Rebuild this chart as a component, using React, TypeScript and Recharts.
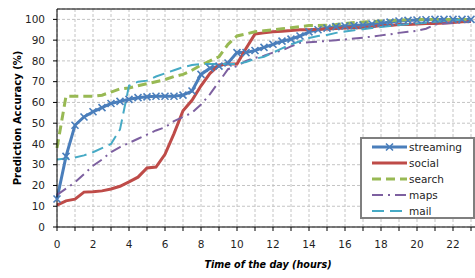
import { LineChart, Line, XAxis, YAxis, CartesianGrid, Legend, ReferenceLine } from 'recharts';

// hour of day, sampled every half hour
const hours = [0, 0.5, 1, 1.5, 2, 2.5, 3, 3.5, 4, 4.5, 5, 5.5, 6, 6.5, 7, 7.5, 8, 8.5, 9, 9.5, 10, 10.5, 11, 11.5, 12, 12.5, 13, 13.5, 14, 14.5, 15, 15.5, 16, 16.5, 17, 17.5, 18, 18.5, 19, 19.5, 20, 20.5, 21, 21.5, 22, 22.5, 23];

const streaming = [13.5, 34, 49, 53, 55.5, 57.5, 59.5, 60.5, 61.5, 62.3, 62.7, 63, 63, 63, 63.5, 65.5, 73.5, 76.5, 77.5, 79, 84, 84, 85, 86.5, 88, 89.5, 90.5, 92, 94, 95, 95.8, 96.5, 96.8, 97, 97.3, 97.8, 98.2, 98.7, 99.2, 99.5, 99.7, 99.8, 100, 100, 100, 100, 100];
const social = [10.5, 12.6, 13.4, 16.8, 17, 17.4, 18.3, 19.6, 21.7, 24, 28.4, 28.9, 35, 45, 56, 61, 68, 74, 78, 78.5, 78.5, 86, 93, 93.5, 94, 94.3, 94.6, 95, 95, 95.2, 95.4, 95.6, 95.8, 96, 96, 96.5, 97, 97, 97.5, 97.5, 97.8, 98, 98, 98.3, 98.5, 98.8, 99];
const search = [38, 63, 63, 63, 63, 63.5, 65, 66.5, 67, 68, 69, 70, 71, 72.5, 73.5, 75.5, 78, 80, 82, 88, 92, 93, 94, 94.5, 95, 95.5, 96, 96.5, 97, 97, 97.2, 97.5, 98, 98.5, 98.7, 99, 99.2, 99.4, 99.6, 99.8, 100, 100, 100, 100, 100, 100, 100];
const maps = [15.5, 18.5, 21.5, 25.5, 29.5, 32.5, 36, 38.5, 40.5, 42.5, 44.5, 46.5, 48, 51, 53, 55, 59, 64, 70, 76, 77.5, 80, 81.5, 82.5, 84, 85, 87, 88.7, 89, 89.3, 89.6, 90, 90.3, 90.8, 91.2, 91.7, 92.3, 92.8, 93.5, 94, 94.5, 95.5, 97.5, 98, 98.3, 98.6, 99];
const mail = [32.5, 33, 33.5, 34.5, 36, 38, 40, 47, 68, 70, 70.5, 72.5, 74, 75.5, 77, 78, 78.5, 78.5, 78.5, 78.5, 78.5, 79.5, 81, 82, 84, 86, 88, 89.5, 91, 92, 92.5, 93.5, 94.2, 94.8, 95.3, 95.8, 96.3, 96.8, 97.3, 97.7, 98, 98.4, 98.8, 99.2, 99.5, 99.8, 100];

const xTicks = [0, 1, 2, 3, 4, 5, 6, 7, 8, 9, 10, 11, 12, 13, 14, 15, 16, 17, 18, 19, 20, 21, 22, 23];
const yTicks = [0, 10, 20, 30, 40, 50, 60, 70, 80, 90, 100];

const data = hours.map((h, i) => ({
  h,
  streaming: streaming[i],
  social: social[i],
  search: search[i],
  maps: maps[i],
  mail: mail[i],
}));

const seriesList = [
  { key: 'streaming', color: '#4a7ebb', width: 3, dash: undefined, marker: true },
  { key: 'social', color: '#be4b48', width: 3, dash: undefined, marker: false },
  { key: 'search', color: '#98b954', width: 3, dash: '9 5', marker: false },
  { key: 'maps', color: '#7d60a0', width: 2, dash: '11 5 2 5', marker: false },
  { key: 'mail', color: '#46aac5', width: 2, dash: '12 6', marker: false },
];

const XMark = (props: any) => {
  const { cx, cy, index } = props;
  if (cx == null || cy == null) return <g key={index} />;
  const s = 3.5;
  return (
    <path
      key={index}
      d={`M${cx - s},${cy - s}L${cx + s},${cy + s}M${cx - s},${cy + s}L${cx + s},${cy - s}`}
      stroke="#4a7ebb"
      strokeWidth={1.6}
      fill="none"
    />
  );
};

const LegendBox = () => (
  <div
    style={{
      border: '2px solid #7f7f7f',
      background: '#fff',
      boxSizing: 'border-box',
      width: 115,
      height: 82,
      fontSize: 10.5,
      color: '#1f1f1f',
    }}
  >
    {seriesList.map((s) => (
      <div key={s.key} style={{ display: 'flex', alignItems: 'center', height: 16 }}>
        <svg width={47} height={12} style={{ display: 'block' }}>
          <line x1={10} x2={45} y1={6} y2={6} stroke={s.color} strokeWidth={s.width} strokeDasharray={s.dash} />
          {s.marker && (
            <path d="M24,2.5L31,9.5M24,9.5L31,2.5" stroke={s.color} strokeWidth={1.6} />
          )}
        </svg>
        <span style={{ lineHeight: '12px' }}>{s.key}</span>
      </div>
    ))}
  </div>
);

export default function App() {
  return (
    <div
      style={{
        position: 'absolute',
        left: 0,
        top: 0,
        width: 475,
        height: 278,
        overflow: 'hidden',
        background: '#fff',
        fontFamily: '"DejaVu Sans", Verdana, sans-serif',
      }}
    >
      <LineChart width={495} height={278} data={data} margin={{ top: 9, right: 6, bottom: 0, left: 0 }}>
        <CartesianGrid stroke="#c4c4c4" strokeDasharray="3 2" />
        <XAxis
          dataKey="h"
          type="number"
          domain={[0, 24]}
          ticks={xTicks}
          interval={0}
          tickFormatter={(v: number) => (v % 2 === 0 ? String(v) : '')}
          tickSize={4}
          tickMargin={10}
          height={51}
          stroke="#000"
          tick={{ fill: '#1f1f1f', fontSize: 10.5 }}
          label={{
            value: 'Time of the day (hours)',
            position: 'insideBottom',
            offset: 10,
            dx: -5,
            style: { fontWeight: 'bold', fontStyle: 'italic', fontSize: 9.6, fill: '#000' },
          }}
        />
        <YAxis
          type="number"
          domain={[0, 105]}
          ticks={yTicks}
          interval={0}
          tickSize={4}
          tickMargin={8}
          width={57}
          stroke="#000"
          tick={{ fill: '#1f1f1f', fontSize: 10.5 }}
          label={{
            value: 'Prediction Accuracy (%)',
            angle: -90,
            position: 'insideLeft',
            offset: 17,
            style: { fontWeight: 'bold', fontSize: 10, fill: '#000', textAnchor: 'middle' },
          }}
        />
        <ReferenceLine y={105} stroke="#000" strokeWidth={1} />
        {seriesList.map((s) => (
          <Line
            key={s.key}
            dataKey={s.key}
            type="linear"
            stroke={s.color}
            strokeWidth={s.width}
            strokeDasharray={s.dash}
            dot={s.marker ? XMark : false}
            activeDot={false}
            isAnimationActive={false}
          />
        ))}
        <Legend
          layout="vertical"
          align="center"
          verticalAlign="middle"
          content={() => <LegendBox />}
          wrapperStyle={{ left: 360, top: 137, width: 115, height: 82 }}
        />
      </LineChart>
    </div>
  );
}
